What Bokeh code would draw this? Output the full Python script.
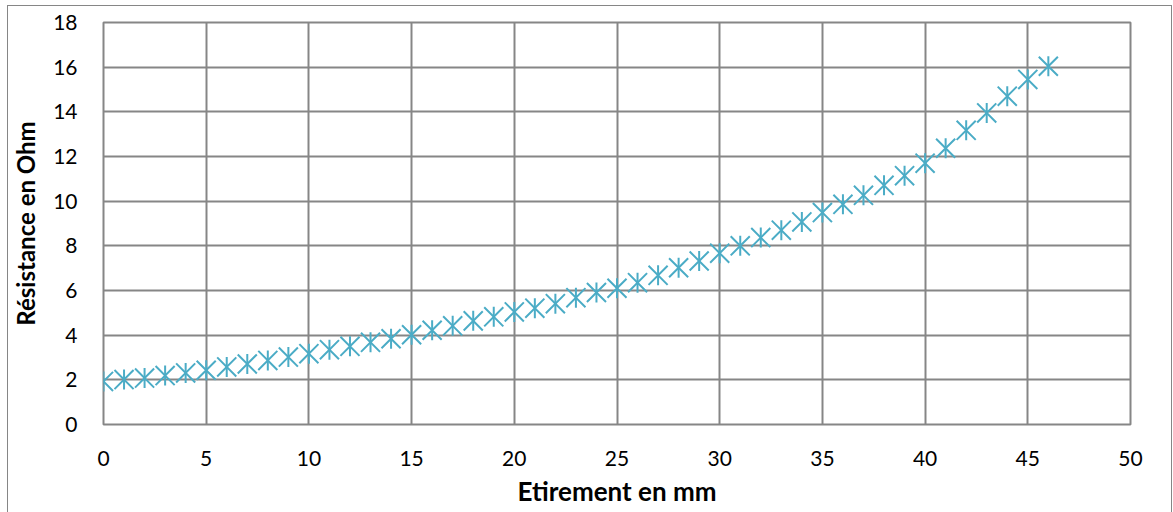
from bokeh.plotting import figure
from bokeh.embed import file_html
from bokeh.resources import INLINE
from bokeh.models import ColumnDataSource, FixedTicker, Range1d
import math

# data
etirement_mm = [0, 1, 2, 3, 4, 5, 6, 7, 8, 9, 10, 11, 12, 13, 14, 15, 16, 17, 18, 19,
                20, 21, 22, 23, 24, 25, 26, 27, 28, 29, 30, 31, 32, 33, 34, 35, 36, 37,
                38, 39, 40, 41, 42, 43, 44, 45, 46]
resistance_ohm = [1.93, 2.01, 2.08, 2.19, 2.31, 2.43, 2.58, 2.71, 2.87, 3.02, 3.17, 3.35,
                  3.50, 3.68, 3.84, 4.02, 4.22, 4.42, 4.64, 4.82, 5.04, 5.21, 5.41, 5.68,
                  5.91, 6.10, 6.35, 6.68, 7.02, 7.32, 7.67, 8.00, 8.37, 8.70, 9.07, 9.49,
                  9.86, 10.26, 10.71, 11.14, 11.70, 12.37, 13.17, 13.95, 14.70, 15.45, 16.04]
x_ticks = [0, 5, 10, 15, 20, 25, 30, 35, 40, 45, 50]
y_ticks = [0, 2, 4, 6, 8, 10, 12, 14, 16, 18]
x_title = "Etirement en mm"
y_title = "Résistance en Ohm"

GRID = "#868686"
MARK = "#4BACC6"
FONT = "Lato"

src = ColumnDataSource(data=dict(x=etirement_mm, y=resistance_ohm))

p = figure(width=1163, height=506, output_backend="svg", toolbar_location=None,
           x_range=Range1d(0, 50), y_range=Range1d(0, 18),
           min_border_left=94, min_border_right=41, min_border_top=16, min_border_bottom=88)
p.styles = {"outline": "1px solid #868686", "margin-left": "8px", "margin-top": "6px"}

p.scatter("x", "y", source=src, marker="x", size=27, line_color=MARK, line_width=2)
p.scatter("x", "y", source=src, marker="dash", angle=math.pi / 2, size=20,
          line_color=MARK, line_width=2)

p.outline_line_color = GRID
p.outline_line_width = 2

for ax in (p.xaxis[0], p.yaxis[0]):
    ax.axis_line_color = None
    ax.major_tick_line_color = None
    ax.minor_tick_line_color = None
    ax.major_tick_out = 0
    ax.major_tick_in = 0
    ax.minor_tick_out = 0
    ax.minor_tick_in = 0
    ax.major_label_text_font = FONT
    ax.major_label_text_font_size = "21px"
    ax.major_label_text_color = "#000000"
    ax.axis_label_text_font = FONT
    ax.axis_label_text_font_style = "bold"
    ax.axis_label_text_color = "#000000"

p.xaxis.axis_label_text_font_size = "26px"
p.yaxis.axis_label_text_font_size = "24px"
p.xaxis.ticker = FixedTicker(ticks=x_ticks)
p.yaxis.ticker = FixedTicker(ticks=y_ticks)
p.xaxis.axis_label = x_title
p.yaxis.axis_label = y_title
p.xaxis.major_label_standoff = 26
p.yaxis.major_label_standoff = 26
p.xaxis.axis_label_standoff = 6
p.yaxis.axis_label_standoff = 10

p.xgrid.ticker = FixedTicker(ticks=x_ticks)
p.ygrid.ticker = FixedTicker(ticks=y_ticks)
for g in (p.xgrid[0], p.ygrid[0]):
    g.grid_line_color = GRID
    g.grid_line_width = 2

open("out.html", "w").write(file_html(p, INLINE))
